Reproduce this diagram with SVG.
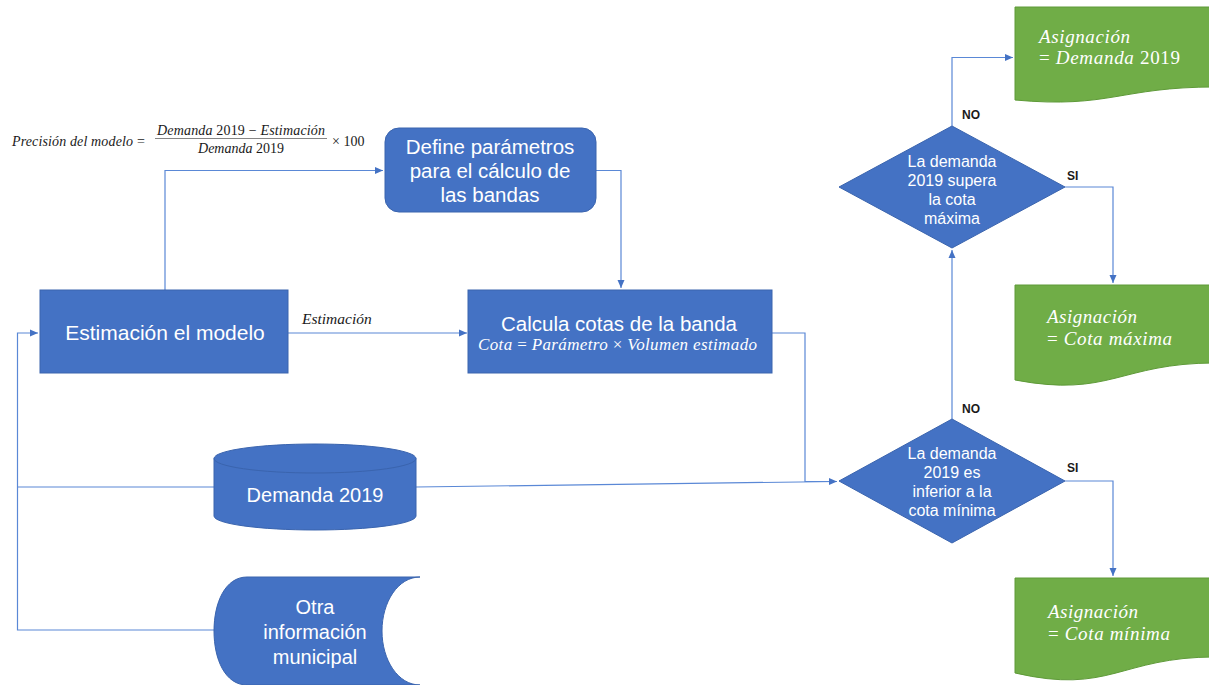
<svg xmlns="http://www.w3.org/2000/svg" width="1209" height="685" viewBox="0 0 1209 685">
<defs>
<marker id="arr" markerUnits="userSpaceOnUse" markerWidth="9" markerHeight="8" refX="8" refY="4" orient="auto">
<path d="M0,0.5 L8,4 L0,7.5 Z" fill="#4472C4"/>
</marker>
<style>
.blue{fill:#4472C4;stroke:#3A64AE;stroke-width:1}
.green{fill:#70AD47;stroke:#5E9A38;stroke-width:1}
.lbl{font-family:"Liberation Sans",Arial,sans-serif;fill:#fff;text-anchor:middle}
.math{font-family:"Liberation Serif","Times New Roman",serif;font-style:italic}
.up{font-style:normal}
.wm{fill:#fff}
.bk{fill:#1a1a1a}
.yn{font-family:"Liberation Sans",Arial,sans-serif;font-weight:bold;font-size:12px;fill:#1a1a1a}
.conn{fill:none;stroke:#5A88D6;stroke-width:1.2}
</style>
</defs>
<rect width="1209" height="685" fill="#fff"/>

<g id="formula">
<text class="math bk" x="12" y="146" font-size="14" textLength="121" lengthAdjust="spacing">Precisión del modelo</text>
<text class="math bk up" x="137" y="146" font-size="14">=</text>
<text class="math bk" x="157" y="135" font-size="14" textLength="168" lengthAdjust="spacing">Demanda<tspan class="up"> 2019 − </tspan>Estimación</text>
<line x1="155" y1="138.5" x2="327" y2="138.5" stroke="#666" stroke-width="0.8"/>
<text class="math bk" x="241" y="153" font-size="14" text-anchor="middle">Demanda<tspan class="up"> 2019</tspan></text>
<text class="math bk up" x="332" y="146" font-size="14">× 100</text>
</g>

<g id="connectors">
<path class="conn" d="M165,290 V170.5 H383" marker-end="url(#arr)"/>
<path class="conn" d="M596,170.5 H621 V288" marker-end="url(#arr)"/>
<path class="conn" d="M288,333 H467" marker-end="url(#arr)"/>
<path class="conn" d="M416,487 L837,481.5"/>
<path class="conn" d="M772,333 H805 V481.5 H837" marker-end="url(#arr)"/>
<path class="conn" d="M214,487 H17.5"/>
<path class="conn" d="M214,630 H17.5 V333 H38" marker-end="url(#arr)"/>
<path class="conn" d="M952,419 V250" marker-end="url(#arr)"/>
<path class="conn" d="M952,126 V57.5 H1013" marker-end="url(#arr)"/>
<path class="conn" d="M1065,187 H1113 V283" marker-end="url(#arr)"/>
<path class="conn" d="M1065,481 H1113 V576" marker-end="url(#arr)"/>
<text class="math bk" x="302" y="324" font-size="15.5">Estimación</text>
<text class="yn" x="962" y="119">NO</text>
<text class="yn" x="1067" y="180">SI</text>
<text class="yn" x="962" y="413">NO</text>
<text class="yn" x="1067" y="472">SI</text>
</g>

<g id="estimacion">
<rect class="blue" x="40" y="290" width="248" height="83"/>
<text class="lbl" x="165" y="340" font-size="21">Estimación el modelo</text>
</g>

<g id="define">
<rect class="blue" x="385" y="128" width="211" height="84" rx="14"/>
<text class="lbl" font-size="20.5"><tspan x="490" y="154">Define parámetros</tspan><tspan x="490" y="178">para el cálculo de</tspan><tspan x="490" y="202">las bandas</tspan></text>
</g>

<g id="calcula">
<rect class="blue" x="468" y="290" width="304" height="83"/>
<text class="lbl" x="619" y="331" font-size="20.5">Calcula cotas de la banda</text>
<text class="math wm" x="478" y="350" font-size="17" textLength="279" lengthAdjust="spacing">Cota<tspan class="up"> = </tspan>Parámetro<tspan class="up"> × </tspan>Volumen estimado</text>
</g>

<g id="demanda2019">
<path class="blue" d="M214,458.5 V516 A101,14 0 0 0 416,516 V458.5 Z"/>
<ellipse class="blue" cx="315" cy="458.5" rx="101" ry="14.5"/>
<text class="lbl" x="315" y="502" font-size="20">Demanda 2019</text>
</g>

<g id="otra">
<path class="blue" d="M420,577 H247 C225,577 214,603 214,631 C214,659 225,685 247,685 H420 C398,685 382,660 382,631 C382,602 398,577 420,577 Z"/>
<text class="lbl" font-size="20"><tspan x="315" y="614">Otra</tspan><tspan x="315" y="639">información</tspan><tspan x="315" y="664">municipal</tspan></text>
</g>

<g id="decision-max">
<polygon class="blue" points="952,126 1065,187 952,248 839,187"/>
<text class="lbl" font-size="16"><tspan x="952" y="167">La demanda</tspan><tspan x="952" y="186">2019 supera</tspan><tspan x="952" y="205">la cota</tspan><tspan x="952" y="224">máxima</tspan></text>
</g>

<g id="decision-min">
<polygon class="blue" points="952,419 1065,481 952,543 839,481"/>
<text class="lbl" font-size="16"><tspan x="952" y="459">La demanda</tspan><tspan x="952" y="478">2019 es</tspan><tspan x="952" y="497">inferior a la</tspan><tspan x="952" y="516">cota mínima</tspan></text>
</g>

<g id="asig-demanda">
<path class="green" d="M1015,7 H1215 V87 C1120,87 1110,108.7 1015,100 Z"/>
<text class="math wm" x="1039" y="43" font-size="19" textLength="91" lengthAdjust="spacing">Asignación</text>
<text class="math wm" x="1039" y="64" font-size="19" textLength="141" lengthAdjust="spacing"><tspan class="up">= </tspan>Demanda<tspan class="up"> 2019</tspan></text>
</g>

<g id="asig-max">
<path class="green" d="M1015,285 H1215 V363 C1120,363 1110,398 1015,380 Z"/>
<text class="math wm" x="1047" y="323" font-size="19" textLength="90" lengthAdjust="spacing">Asignación</text>
<text class="math wm" x="1047" y="345" font-size="19" textLength="125" lengthAdjust="spacing"><tspan class="up">= </tspan>Cota máxima</text>
</g>

<g id="asig-min">
<path class="green" d="M1015,578 H1215 V657 C1120,657 1110,695 1015,673 Z"/>
<text class="math wm" x="1048" y="618" font-size="19" textLength="90" lengthAdjust="spacing">Asignación</text>
<text class="math wm" x="1048" y="640" font-size="19" textLength="122" lengthAdjust="spacing"><tspan class="up">= </tspan>Cota mínima</text>
</g>
</svg>
